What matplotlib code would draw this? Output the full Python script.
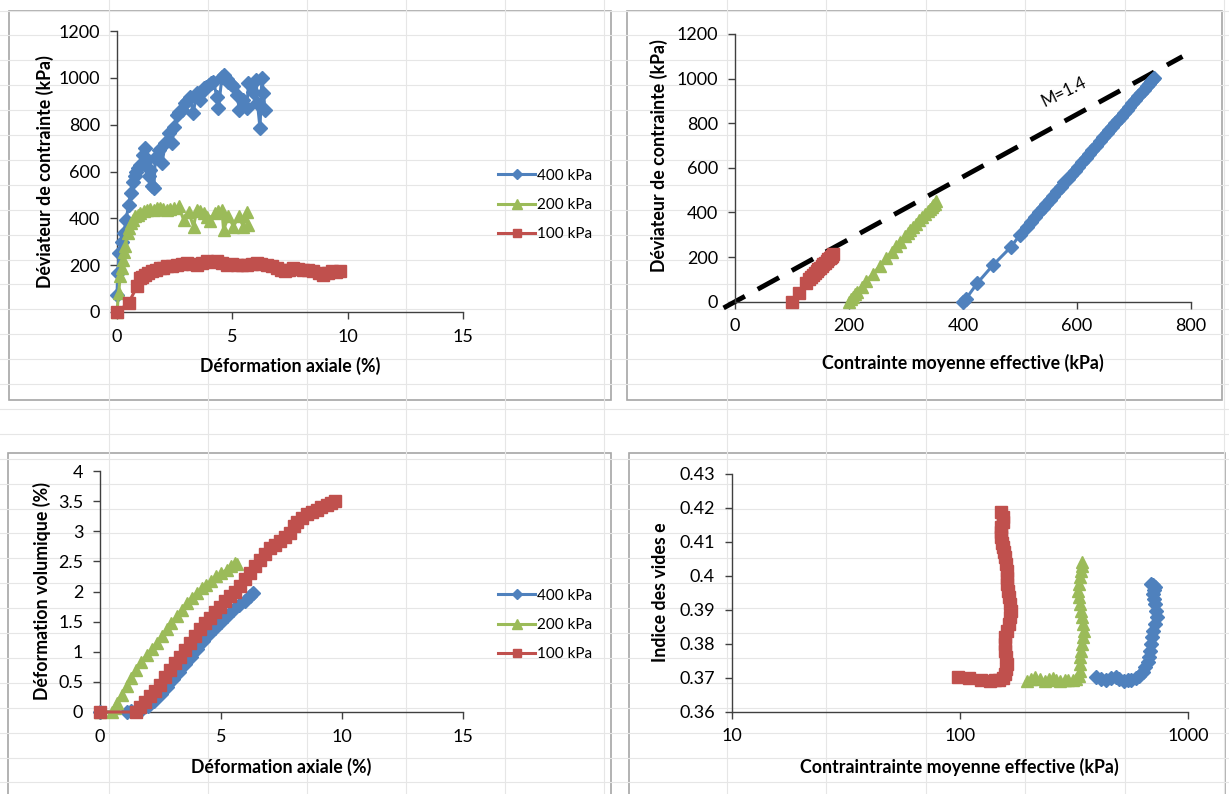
import numpy as np
import matplotlib
matplotlib.use("Agg")
import matplotlib.pyplot as plt
from matplotlib.patches import Rectangle
from matplotlib.ticker import FixedLocator, FixedFormatter, NullLocator

plt.rcParams['font.family'] = ['Lato', 'DejaVu Sans']

BLUE = "#4F81BD"
GREEN = "#9BBB59"
RED = "#C0504D"
labels = ["400 kPa", "200 kPa", "100 kPa"]

# --- q vs axial strain ---
ea_400 = [0.0, 0.03, 0.1, 0.2, 0.3, 0.4, 0.5, 0.6, 0.7, 0.77, 0.84, 0.92, 1.0, 1.13, 1.2, 1.3,
          1.37, 1.44, 1.5, 1.6, 1.66, 1.8, 1.95, 2.1, 2.24, 2.38, 2.48, 2.6, 2.7, 2.8, 2.96,
          3.05, 3.17, 3.3, 3.46, 3.6, 3.7, 3.78, 3.88, 3.97, 4.08, 4.18, 4.33, 4.4, 4.55,
          4.65, 4.75, 4.83, 4.95, 5.05, 5.2, 5.31, 5.45, 5.63, 5.7, 5.89, 6.03, 6.09, 6.2,
          6.28, 6.35, 6.42]
q_400 = [74, 166, 250, 300, 337, 394, 458, 508, 557, 580, 600, 615, 628, 671, 700, 650,
         579, 607, 536, 529, 657, 692, 636, 721, 763, 721, 792, 842, 855, 863, 891,
         900, 920, 849, 934, 906, 940, 955, 962, 970, 978, 984, 920, 870, 1005,
         1012, 995, 984, 975, 963, 927, 863, 906, 870, 977, 941, 991, 891, 785,
         998, 934, 863]
ea_200 = [0.0, 0.07, 0.14, 0.2, 0.26, 0.31, 0.36, 0.46, 0.53, 0.6, 0.7, 0.79, 0.9, 1.0,
          1.15, 1.3, 1.45, 1.59, 1.75, 1.88, 2.0, 2.16, 2.3, 2.45, 2.67, 2.89, 3.1, 3.32,
          3.46, 3.6, 3.75, 3.9, 4.04, 4.26, 4.4, 4.55, 4.62, 4.83, 5.05, 5.27, 5.48, 5.63,
          5.66]
q_200 = [0, 81, 152, 190, 223, 255, 280, 337, 360, 380, 395, 408, 415, 422,
         430, 437, 440, 437, 442, 444, 440, 437, 440, 444, 451, 394, 429, 365,
         437, 430, 422, 405, 387, 422, 430, 437, 351, 408, 365, 408, 365, 429,
         372]
ea_100 = [0.0, 0.5, 0.87, 1.0, 1.1, 1.23, 1.35, 1.5, 1.7, 1.88, 2.0, 2.16, 2.4, 2.6, 2.8,
          3.03, 3.25, 3.46, 3.7, 3.9, 4.1, 4.33, 4.55, 4.76, 5.0, 5.2, 5.4, 5.63, 5.85,
          6.06, 6.25, 6.49, 6.7, 6.93, 7.1, 7.29, 7.45, 7.65, 7.85, 8.08, 8.3, 8.51, 8.75,
          8.95, 9.15, 9.31, 9.5, 9.67]
q_100 = [0, 38, 109, 145, 150, 159, 165, 173, 180, 188, 190, 195, 198, 202, 205,
         209, 205, 202, 210, 216, 212, 216, 210, 202, 205, 202, 200, 202, 205,
         209, 205, 202, 195, 188, 180, 173, 180, 188, 185, 181, 178, 173, 165,
         159, 168, 173, 172, 173]

# --- q vs p' ---
p_400 = [400, 405, 425, 453, 484, 500, 512, 520, 527, 534, 540, 546, 552, 558, 565, 572,
         578, 584, 590, 596, 602, 608, 615, 621, 627, 634, 640, 646, 652, 657, 662, 667,
         672, 677, 682, 687, 692, 697, 702, 707, 712, 717, 722, 726, 730, 733, 735]
qp_400 = [0, 12, 83, 165, 245, 300, 335, 358, 380, 400, 420, 437, 455, 475, 495, 515,
          535, 552, 570, 588, 605, 625, 645, 662, 680, 700, 720, 738, 755, 770, 785, 800,
          815, 830, 845, 860, 875, 890, 905, 920, 935, 950, 965, 978, 990, 998, 1005]
p_200 = [200, 204, 207, 211, 214, 222, 230, 242, 254, 265, 275, 283, 290, 298, 303, 307,
         312, 317, 322, 328, 333, 338, 342, 345, 348, 350, 352]
qp_200 = [0, 12, 22, 35, 45, 68, 92, 125, 160, 195, 225, 250, 268, 295, 308, 320,
          335, 350, 365, 380, 393, 405, 415, 425, 433, 440, 450]
p_100 = [100, 112, 125, 130, 133, 137, 140, 143, 146, 149, 152, 155, 158, 161, 164, 166,
         168, 170, 172]
qp_100 = [0, 40, 85, 100, 110, 120, 130, 138, 145, 152, 160, 168, 175, 182, 190, 195,
          200, 206, 212]
M = 1.4
p_csl = np.array([-20, 785])

# --- volumetric strain vs axial strain ---
ea_v400 = [0.0, 1.1, 1.3, 1.5, 1.75, 2.0, 2.25, 2.5, 2.75, 3.0, 3.25, 3.5, 3.75, 4.0, 4.25,
           4.5, 4.75, 5.0, 5.25, 5.5, 5.75, 6.0, 6.2, 6.34]
ev_400 = [0.0, 0.0, 0.01, 0.02, 0.05, 0.1, 0.19, 0.3, 0.42, 0.55, 0.67, 0.8, 0.92, 1.05, 1.18,
          1.3, 1.4, 1.5, 1.6, 1.7, 1.78, 1.85, 1.92, 1.97]
ea_v200 = [0.0, 0.48, 0.6, 0.69, 0.9, 1.1, 1.3, 1.5, 1.7, 1.93, 2.15, 2.34, 2.55, 2.75, 2.95,
           3.17, 3.38, 3.58, 3.8, 4.0, 4.2, 4.4, 4.6, 4.8, 5.0, 5.23, 5.4, 5.58, 5.67]
ev_200 = [0.0, 0.0, 0.07, 0.15, 0.29, 0.43, 0.57, 0.70, 0.83, 0.95, 1.05, 1.15, 1.26, 1.37,
          1.48, 1.59, 1.70, 1.81, 1.90, 1.98, 2.05, 2.11, 2.18, 2.25, 2.30, 2.36, 2.42, 2.47,
          2.45]
ea_v100 = [0.0, 1.5, 1.65, 1.85, 2.07, 2.28, 2.48, 2.7, 2.89, 3.1, 3.3, 3.5, 3.72, 3.92,
           4.13, 4.35, 4.55, 4.75, 4.96, 5.15, 5.37, 5.58, 5.79, 6.0, 6.2, 6.4, 6.61, 6.8,
           7.02, 7.23, 7.44, 7.65, 7.85, 8.0, 8.13, 8.33, 8.54, 8.75, 8.95, 9.15, 9.37, 9.55,
           9.71]
ev_100 = [0.0, 0.0, 0.09, 0.17, 0.26, 0.35, 0.45, 0.58, 0.70, 0.81, 0.92, 1.03, 1.15, 1.26,
          1.37, 1.47, 1.56, 1.66, 1.75, 1.84, 1.92, 2.0, 2.09, 2.2, 2.31, 2.42, 2.53, 2.62,
          2.72, 2.78, 2.83, 2.9, 2.97, 3.08, 3.16, 3.22, 3.28, 3.32, 3.36, 3.4, 3.44, 3.47,
          3.5]

# --- void ratio vs p' ---
pe_400 = [395, 415, 437, 460, 482, 500, 522, 545, 565, 590, 612, 632, 650, 665, 676, 684,
          690, 698, 705, 720, 733, 725, 718, 710, 705, 712, 718, 705, 690]
e_400 = [0.3701, 0.3697, 0.3693, 0.3698, 0.3701, 0.3695, 0.3691, 0.3692, 0.3693, 0.3699,
         0.3706, 0.3718, 0.3731, 0.3745, 0.376, 0.378, 0.380, 0.382, 0.3839, 0.3858,
         0.3878, 0.3898, 0.3917, 0.3932, 0.3947, 0.3958, 0.3966, 0.3972, 0.3976]
pe_200 = [196, 205, 213, 224, 235, 245, 255, 265, 276, 288, 299, 312, 324, 332, 337, 337,
          337, 340, 343, 347, 351, 347, 343, 340, 337, 333, 330, 333, 337, 340, 343, 343]
e_200 = [0.3691, 0.3697, 0.3701, 0.3695, 0.3691, 0.3695, 0.3698, 0.3694, 0.3691, 0.3692,
         0.3693, 0.3694, 0.3696, 0.3705, 0.3721, 0.374, 0.376, 0.378, 0.380, 0.382,
         0.3839, 0.3858, 0.3878, 0.3898, 0.3917, 0.3937, 0.3956, 0.3976, 0.3996, 0.4013,
         0.403, 0.404]
pe_100 = [98, 110, 124, 135, 142, 149, 154, 158, 160, 161, 160, 158, 158, 158, 161, 164,
          166, 168, 166, 164, 162, 161, 161, 161, 160, 158, 156, 155, 153, 152, 152, 152,
          154, 155, 152]
e_100 = [0.3703, 0.3698, 0.3693, 0.3691, 0.3692, 0.3693, 0.370, 0.3711, 0.3725, 0.374,
         0.376, 0.378, 0.380, 0.3819, 0.3838, 0.3858, 0.3878, 0.3897, 0.3917, 0.3937,
         0.3956, 0.3976, 0.3995, 0.4015, 0.4035, 0.4055, 0.407, 0.4084, 0.4098, 0.4113,
         0.4128, 0.4143, 0.4158, 0.4172, 0.4187]

W, H = 1229, 794
fig = plt.figure(figsize=(W / 100, H / 100), dpi=100)

# sheet background: cell grid + chart frames
bg = fig.add_axes([0, 0, 1, 1], zorder=-10)
bg.set_xlim(0, W)
bg.set_ylim(H, 0)
bg.axis("off")
for y in np.arange(10.5, H, 24.9):
    bg.axhline(y, color="#e6e6e6", lw=0.8)
for x in [109, 208, 307, 406, 505, 604, 727, 826, 926, 1025, 1125, 1224]:
    bg.axvline(x, color="#e6e6e6", lw=0.8)
for (x0, y0, x1, y1) in [(9, 11, 611, 400), (627, 11, 1222, 400),
                         (8, 453, 611, 800), (629, 453, 1225, 800)]:
    bg.add_patch(Rectangle((x0, y0), x1 - x0, y1 - y0, facecolor="white",
                           edgecolor="#a6a6a6", lw=1.2))


def px_axes(x0, y0, x1, y1):
    return fig.add_axes([x0 / W, 1 - y1 / H, (x1 - x0) / W, (y1 - y0) / H])


def style(ax):
    for s in ["top", "right"]:
        ax.spines[s].set_visible(False)
    for s in ["left", "bottom"]:
        ax.spines[s].set_color("#404040")
        ax.spines[s].set_linewidth(1.0)
    ax.tick_params(direction="out", length=5, width=1.0, color="#404040",
                   labelsize=13, pad=7)
    ax.patch.set_alpha(0)


def series(ax, x, y, color, marker, ms, label=None):
    ax.plot(x, y, color=color, lw=2.2, marker=marker, ms=ms, mfc=color, mec=color,
            label=label, clip_on=False, zorder=3)


LAB = dict(fontsize=12.8, fontweight="bold", va="center")
LEG = dict(loc="center", frameon=False, fontsize=11, numpoints=1, handlelength=2.4,
           handletextpad=0.1, labelspacing=1.0, markerscale=0.75)

# top-left
ax1 = px_axes(117, 31, 463, 312)
series(ax1, ea_400, q_400, BLUE, "D", 7, labels[0])
series(ax1, ea_200, q_200, GREEN, "^", 9, labels[1])
series(ax1, ea_100, q_100, RED, "s", 8.5, labels[2])
ax1.set_xlim(0, 15)
ax1.set_ylim(0, 1200)
ax1.set_xticks([0, 5, 10, 15])
ax1.set_yticks(range(0, 1201, 200))
style(ax1)
ax1.set_ylabel("Déviateur de contrainte (kPa)", **LAB)
ax1.yaxis.set_label_coords(-0.208, 0.5)
ax1.set_xlabel("Déformation axiale (%)", **LAB)
ax1.xaxis.set_label_coords(0.5, -0.192)
h, l = ax1.get_legend_handles_labels()
fig.legend(h, l, bbox_to_anchor=(545 / W, 1 - 205 / H), **LEG)

# top-right
ax2 = px_axes(735, 34, 1191, 301.7)
series(ax2, p_400, qp_400, BLUE, "D", 7)
series(ax2, p_200, qp_200, GREEN, "^", 9)
series(ax2, p_100, qp_100, RED, "s", 8.5)
ax2.plot(p_csl, M * p_csl, color="black", lw=3.5, ls=(0, (5, 3)), clip_on=False, zorder=2)
ax2.text(577, 940, f"M={M}", fontsize=12, rotation=26, ha="center", va="center")
ax2.set_xlim(0, 800)
ax2.set_ylim(0, 1200)
ax2.set_xticks(range(0, 801, 200))
ax2.set_yticks(range(0, 1201, 200))
style(ax2)
ax2.set_ylabel("Déviateur de contrainte (kPa)", **LAB)
ax2.yaxis.set_label_coords(-0.167, 0.545)
ax2.set_xlabel("Contrainte moyenne effective (kPa)", **LAB)
ax2.xaxis.set_label_coords(0.5, -0.229)

# bottom-left
ax3 = px_axes(100, 471, 463, 712)
series(ax3, ea_v400, ev_400, BLUE, "D", 7, labels[0])
series(ax3, ea_v200, ev_200, GREEN, "^", 9, labels[1])
series(ax3, ea_v100, ev_100, RED, "s", 8.5, labels[2])
ax3.set_xlim(0, 15)
ax3.set_ylim(0, 4)
ax3.set_xticks([0, 5, 10, 15])
yt3 = [0, 0.5, 1, 1.5, 2, 2.5, 3, 3.5, 4]
ax3.yaxis.set_major_locator(FixedLocator(yt3))
ax3.yaxis.set_major_formatter(FixedFormatter(["0", "0.5", "1", "1.5", "2", "2.5", "3", "3.5", "4"]))
style(ax3)
ax3.set_ylabel("Déformation volumique (%)", **LAB)
ax3.yaxis.set_label_coords(-0.16, 0.5)
ax3.set_xlabel("Déformation axiale (%)", **LAB)
ax3.xaxis.set_label_coords(0.5, -0.228)
h, l = ax3.get_legend_handles_labels()
fig.legend(h, l, bbox_to_anchor=(545 / W, 1 - 625 / H), **LEG)

# bottom-right
ax4 = px_axes(731.7, 474, 1188, 711.7)
series(ax4, pe_400, e_400, BLUE, "D", 7)
series(ax4, pe_200, e_200, GREEN, "^", 9)
series(ax4, pe_100, e_100, RED, "s", 8.5)
ax4.set_xscale("log")
ax4.set_xlim(10, 1000)
ax4.set_ylim(0.36, 0.43)
ax4.xaxis.set_major_locator(FixedLocator([10, 100, 1000]))
ax4.xaxis.set_major_formatter(FixedFormatter(["10", "100", "1000"]))
ax4.xaxis.set_minor_locator(NullLocator())
yt4 = [0.36, 0.37, 0.38, 0.39, 0.40, 0.41, 0.42, 0.43]
ax4.yaxis.set_major_locator(FixedLocator(yt4))
ax4.yaxis.set_major_formatter(FixedFormatter(["0.36", "0.37", "0.38", "0.39", "0.4", "0.41", "0.42", "0.43"]))
style(ax4)
ax4.set_ylabel("Indice des vides e", **LAB)
ax4.yaxis.set_label_coords(-0.155, 0.504)
ax4.set_xlabel("Contraintrainte moyenne effective (kPa)", **LAB)
ax4.xaxis.set_label_coords(0.5, -0.233)

fig.savefig("out.png", dpi=100)
